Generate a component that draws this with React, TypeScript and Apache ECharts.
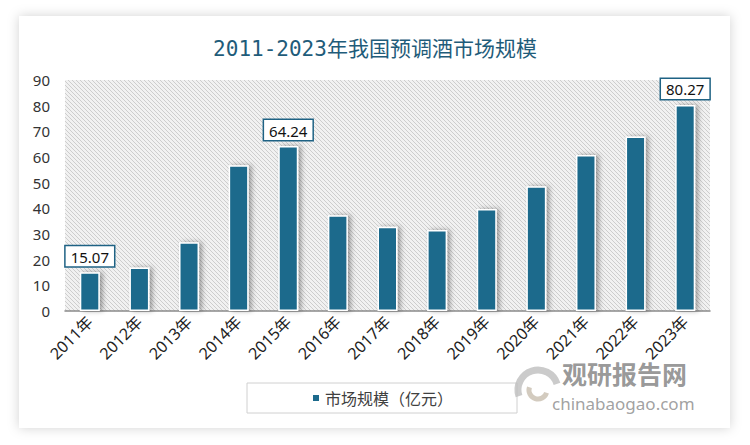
import React, { useEffect, useRef } from "react";
import * as echarts from "echarts";

const categories = ["2011年", "2012年", "2013年", "2014年", "2015年", "2016年", "2017年", "2018年", "2019年", "2020年", "2021年", "2022年", "2023年"];
const values = [15.07, 16.9, 26.8, 56.8, 64.24, 37.3, 32.8, 31.6, 39.7, 48.6, 60.8, 68.0, 80.27];
const labeledYears = ["2011年", "2015年", "2023年"];
const seriesName = "市场规模（亿元）";
const titleText = "2011-2023年我国预调酒市场规模";

function makeHatch() {
  const c = document.createElement("canvas");
  c.width = 4;
  c.height = 4;
  const ctx = c.getContext("2d")!;
  ctx.fillStyle = "#f1f1f1";
  ctx.fillRect(0, 0, 4, 4);
  ctx.fillStyle = "#cdcdcd";
  for (let i = 0; i < 4; i++) ctx.fillRect(i, i, 1, 1);
  return c;
}

export default function App() {
  const ref = useRef<HTMLDivElement>(null);
  useEffect(() => {
    document.body.style.margin = "0";
    const chart = echarts.init(ref.current!, null, { renderer: "svg" });
    const hatch = makeHatch();
    chart.setOption({
      animation: false,
      backgroundColor: "#ffffff",
      title: {
        text: titleText,
        left: "center",
        top: 33,
        textStyle: {
          fontFamily: "'DejaVu Sans Mono', 'Noto Sans CJK SC'",
          fontSize: 21,
          fontWeight: "normal",
          color: "#1f5c7a",
        },
      },
      graphic: [
        {
          type: "rect",
          z: -10,
          shape: { x: 19, y: 16, width: 711, height: 412 },
          style: { fill: "#ffffff", shadowBlur: 12, shadowColor: "rgba(0,0,0,0.18)" },
        },
        {
          type: "arc",
          z: 20,
          shape: { cx: 538, cy: 390, r: 20, startAngle: Math.PI * 0.9, endAngle: Math.PI * 1.9 },
          style: { stroke: "rgba(190,190,190,0.8)", lineWidth: 7, fill: "none" },
        },
        {
          type: "arc",
          z: 20,
          shape: { cx: 538, cy: 390, r: 9, startAngle: Math.PI * 0.1, endAngle: Math.PI * 1.1 },
          style: { stroke: "rgba(200,190,175,0.8)", lineWidth: 5, fill: "none" },
        },
        {
          type: "text",
          z: 20,
          x: 562,
          y: 373,
          style: {
            text: "观研报告网",
            font: "bold 25px 'Noto Sans CJK SC'",
            fill: "rgba(140,140,140,0.9)",
            verticalAlign: "middle",
          },
        },
        {
          type: "text",
          z: 20,
          x: 552,
          y: 403,
          style: {
            text: "chinabaogao.com",
            font: "17px 'Noto Sans', 'DejaVu Sans'",
            fill: "rgba(150,150,150,0.9)",
            verticalAlign: "middle",
          },
        },
      ],
      legend: {
        left: 247,
        top: 383,
        padding: [7, 64, 7, 64],
        borderColor: "#d0d0d0",
        borderWidth: 1,
        backgroundColor: "#ffffff",
        itemWidth: 8,
        itemHeight: 8,
        icon: "rect",
        textStyle: { fontFamily: "'Noto Sans CJK SC'", fontSize: 16, color: "#404040" },
        data: [seriesName],
      },
      grid: {
        left: 65,
        right: 40,
        top: 80,
        bottom: 134,
        show: true,
        borderWidth: 0,
        backgroundColor: { image: hatch, repeat: "repeat", imageWidth: 4, imageHeight: 4 },
      },
      xAxis: {
        type: "category",
        data: categories,
        axisLine: { lineStyle: { color: "#8a8a8a", width: 1.5 } },
        axisTick: { show: false },
        axisLabel: {
          rotate: 45,
          interval: 0,
          fontSize: 16,
          color: "#222",
          fontFamily: "'Noto Sans', 'Noto Sans CJK SC'",
          margin: 8,
        },
      },
      yAxis: {
        type: "value",
        min: 0,
        max: 90,
        interval: 10,
        axisLine: { show: false },
        axisTick: { show: false },
        splitLine: { show: false },
        axisLabel: { fontSize: 15, color: "#333", fontFamily: "'Noto Sans'", margin: 15 },
      },
      series: [
        {
          name: seriesName,
          type: "bar",
          barWidth: 20,
          itemStyle: {
            color: "#1c6a8c",
            borderColor: "#ffffff",
            borderWidth: 1.5,
            shadowBlur: 5,
            shadowColor: "rgba(0,0,0,0.35)",
            shadowOffsetX: 3,
            shadowOffsetY: 0,
          },
          data: values.map((v, i) => ({
            value: v,
            label: labeledYears.includes(categories[i])
              ? {
                  show: true,
                  position: "top",
                  distance: 6,
                  formatter: (p: any) => p.value.toFixed(2),
                  fontSize: 15,
                  fontFamily: "'Noto Sans'",
                  color: "#111",
                  backgroundColor: "#ffffff",
                  borderColor: "#1e6284",
                  borderWidth: 1.5,
                  padding: [3, 5, 2, 5],
                }
              : { show: false },
          })),
        },
      ],
    });
    return () => chart.dispose();
  }, []);
  return <div ref={ref} style={{ width: 750, height: 445 }} />;
}
